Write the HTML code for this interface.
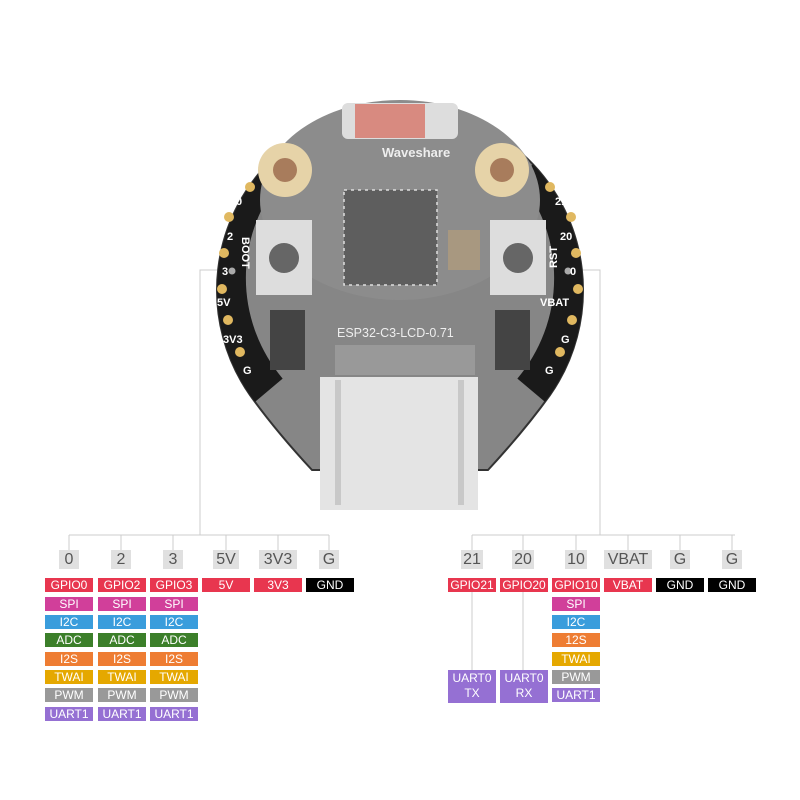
<!DOCTYPE html>
<html><head><meta charset="utf-8"><style>
html,body{margin:0;padding:0;background:#fff;}
body{width:800px;height:800px;position:relative;overflow:hidden;font-family:"Liberation Sans",sans-serif;}
.t{position:absolute;height:14px;line-height:14px;color:#fff;font-size:12px;text-align:center;width:48px;}
.h{position:absolute;top:550px;height:19px;line-height:20px;background:#e0e0e0;color:#555;font-size:16px;text-align:center;}
.r{background:#e8364f}.s{background:#d13f9a}.i{background:#3a9ddc}.a{background:#3c7f2a}.o{background:#ee7d33}.w{background:#e5a800}.p{background:#999}.u{background:#9570d3}.k{background:#000}
</style></head><body>
<svg width="800" height="800" style="position:absolute;left:0;top:0">
<defs><clipPath id="cp"><path d="M312,470 Q275,430 250,395 A183,183 0 1 1 550,395 Q525,430 488,470 Z"/></clipPath></defs>
<g stroke="#ccc" stroke-width="1" fill="none">
<polyline points="225,270 200,270 200,535"/>
<polyline points="575,270 600,270 600,535"/>
<line x1="69" y1="535" x2="329" y2="535"/>
<line x1="472" y1="535" x2="735" y2="535"/>
<path d="M69,535V551M121,535V551M173,535V551M226,535V551M278,535V551M329,535V551"/>
<path d="M472,535V551M523,535V551M576,535V551M628,535V551M680,535V551M732,535V551"/>
<path d="M472,591V670M523,591V670"/>
</g>
<path d="M312,470 Q275,430 250,395 A183,183 0 1 1 550,395 Q525,430 488,470 Z" fill="#868686" stroke="#333" stroke-width="2"/>
<g clip-path="url(#cp)" fill="none" stroke="#1a1a1a" stroke-width="54">
<path d="M262,160 A183,183 0 0 0 262,396"/>
<path d="M538,160 A183,183 0 0 1 538,396"/>
</g>
<ellipse cx="400" cy="200" rx="140" ry="100" fill="#8c8c8c"/>
<rect x="342" y="103" width="116" height="36" rx="6" fill="#ddd"/>
<rect x="355" y="104" width="70" height="34" fill="#d88a80"/>
<text x="382" y="157" font-size="13" font-weight="bold" fill="#eee" font-family="Liberation Sans">Waveshare</text>
<circle cx="285" cy="170" r="27" fill="#e6d3a8"/><circle cx="285" cy="170" r="12" fill="#a87c5c"/>
<circle cx="502" cy="170" r="27" fill="#e6d3a8"/><circle cx="502" cy="170" r="12" fill="#a87c5c"/>
<rect x="344" y="190" width="93" height="95" fill="#5e5e5e" stroke="#ddd" stroke-width="1.5" stroke-dasharray="3,4"/>
<rect x="448" y="230" width="32" height="40" fill="#a89880"/>
<rect x="256" y="220" width="56" height="75" fill="#ddd"/><circle cx="284" cy="258" r="15" fill="#666"/>
<rect x="490" y="220" width="56" height="75" fill="#ddd"/><circle cx="518" cy="258" r="15" fill="#666"/>
<rect x="270" y="310" width="35" height="60" fill="#444"/>
<rect x="495" y="310" width="35" height="60" fill="#444"/>
<text x="337" y="337" font-size="12.5" fill="#eee" font-family="Liberation Sans">ESP32-C3-LCD-0.71</text>
<rect x="335" y="345" width="140" height="30" fill="#999"/>
<rect x="320" y="377" width="158" height="133" fill="#e4e4e4"/>
<rect x="335" y="380" width="6" height="125" fill="#c8c8c8"/><rect x="458" y="380" width="6" height="125" fill="#c8c8c8"/>
<g fill="#e0b860">
<circle cx="250" cy="187" r="5"/><circle cx="229" cy="217" r="5"/><circle cx="224" cy="253" r="5"/><circle cx="222" cy="289" r="5"/><circle cx="228" cy="320" r="5"/><circle cx="240" cy="352" r="5"/>
<circle cx="550" cy="187" r="5"/><circle cx="571" cy="217" r="5"/><circle cx="576" cy="253" r="5"/><circle cx="578" cy="289" r="5"/><circle cx="572" cy="320" r="5"/><circle cx="560" cy="352" r="5"/>
</g>
<circle cx="232" cy="271" r="3.5" fill="#aaa"/><circle cx="568" cy="271" r="3.5" fill="#aaa"/>
<g font-size="11" font-weight="bold" fill="#fff" font-family="Liberation Sans">
<text x="236" y="205">0</text><text x="227" y="240">2</text><text x="222" y="275">3</text><text x="217" y="306">5V</text><text x="223" y="343">3V3</text><text x="243" y="374">G</text>
<text x="555" y="205">21</text><text x="560" y="240">20</text><text x="570" y="275">0</text><text x="540" y="306">VBAT</text><text x="561" y="343">G</text><text x="545" y="374">G</text>
<text transform="translate(242,237) rotate(90)">BOOT</text>
<text transform="translate(557,268) rotate(-90)">RST</text>
</g>
</svg>
<div class="h" style="left:59px;width:20px">0</div>
<div class="h" style="left:111px;width:20px">2</div>
<div class="h" style="left:163px;width:20px">3</div>
<div class="h" style="left:213px;width:26px">5V</div>
<div class="h" style="left:259px;width:38px">3V3</div>
<div class="h" style="left:319px;width:20px">G</div>
<div class="h" style="left:461px;width:22px">21</div>
<div class="h" style="left:512px;width:22px">20</div>
<div class="h" style="left:565px;width:22px">10</div>
<div class="h" style="left:604px;width:48px">VBAT</div>
<div class="h" style="left:670px;width:20px">G</div>
<div class="h" style="left:722px;width:20px">G</div>

<div class="t r" style="left:45px;top:578px">GPIO0</div>
<div class="t r" style="left:98px;top:578px">GPIO2</div>
<div class="t r" style="left:150px;top:578px">GPIO3</div>
<div class="t r" style="left:202px;top:578px">5V</div>
<div class="t r" style="left:254px;top:578px">3V3</div>
<div class="t k" style="left:306px;top:578px">GND</div>
<div class="t s" style="left:45px;top:597px">SPI</div><div class="t s" style="left:98px;top:597px">SPI</div><div class="t s" style="left:150px;top:597px">SPI</div>
<div class="t i" style="left:45px;top:615px">I2C</div><div class="t i" style="left:98px;top:615px">I2C</div><div class="t i" style="left:150px;top:615px">I2C</div>
<div class="t a" style="left:45px;top:633px">ADC</div><div class="t a" style="left:98px;top:633px">ADC</div><div class="t a" style="left:150px;top:633px">ADC</div>
<div class="t o" style="left:45px;top:652px">I2S</div><div class="t o" style="left:98px;top:652px">I2S</div><div class="t o" style="left:150px;top:652px">I2S</div>
<div class="t w" style="left:45px;top:670px">TWAI</div><div class="t w" style="left:98px;top:670px">TWAI</div><div class="t w" style="left:150px;top:670px">TWAI</div>
<div class="t p" style="left:45px;top:688px">PWM</div><div class="t p" style="left:98px;top:688px">PWM</div><div class="t p" style="left:150px;top:688px">PWM</div>
<div class="t u" style="left:45px;top:707px">UART1</div><div class="t u" style="left:98px;top:707px">UART1</div><div class="t u" style="left:150px;top:707px">UART1</div>

<div class="t r" style="left:448px;top:578px">GPIO21</div>
<div class="t r" style="left:500px;top:578px">GPIO20</div>
<div class="t r" style="left:552px;top:578px">GPIO10</div>
<div class="t r" style="left:604px;top:578px">VBAT</div>
<div class="t k" style="left:656px;top:578px">GND</div>
<div class="t k" style="left:708px;top:578px">GND</div>
<div class="t s" style="left:552px;top:597px">SPI</div>
<div class="t i" style="left:552px;top:615px">I2C</div>
<div class="t o" style="left:552px;top:633px">12S</div>
<div class="t w" style="left:552px;top:652px">TWAI</div>
<div class="t p" style="left:552px;top:670px">PWM</div>
<div class="t u" style="left:552px;top:688px">UART1</div>
<div class="t u" style="left:448px;top:670px;height:32px;line-height:15px;padding-top:1px">UART0<br>TX</div>
<div class="t u" style="left:500px;top:670px;height:32px;line-height:15px;padding-top:1px">UART0<br>RX</div>
</body></html>
